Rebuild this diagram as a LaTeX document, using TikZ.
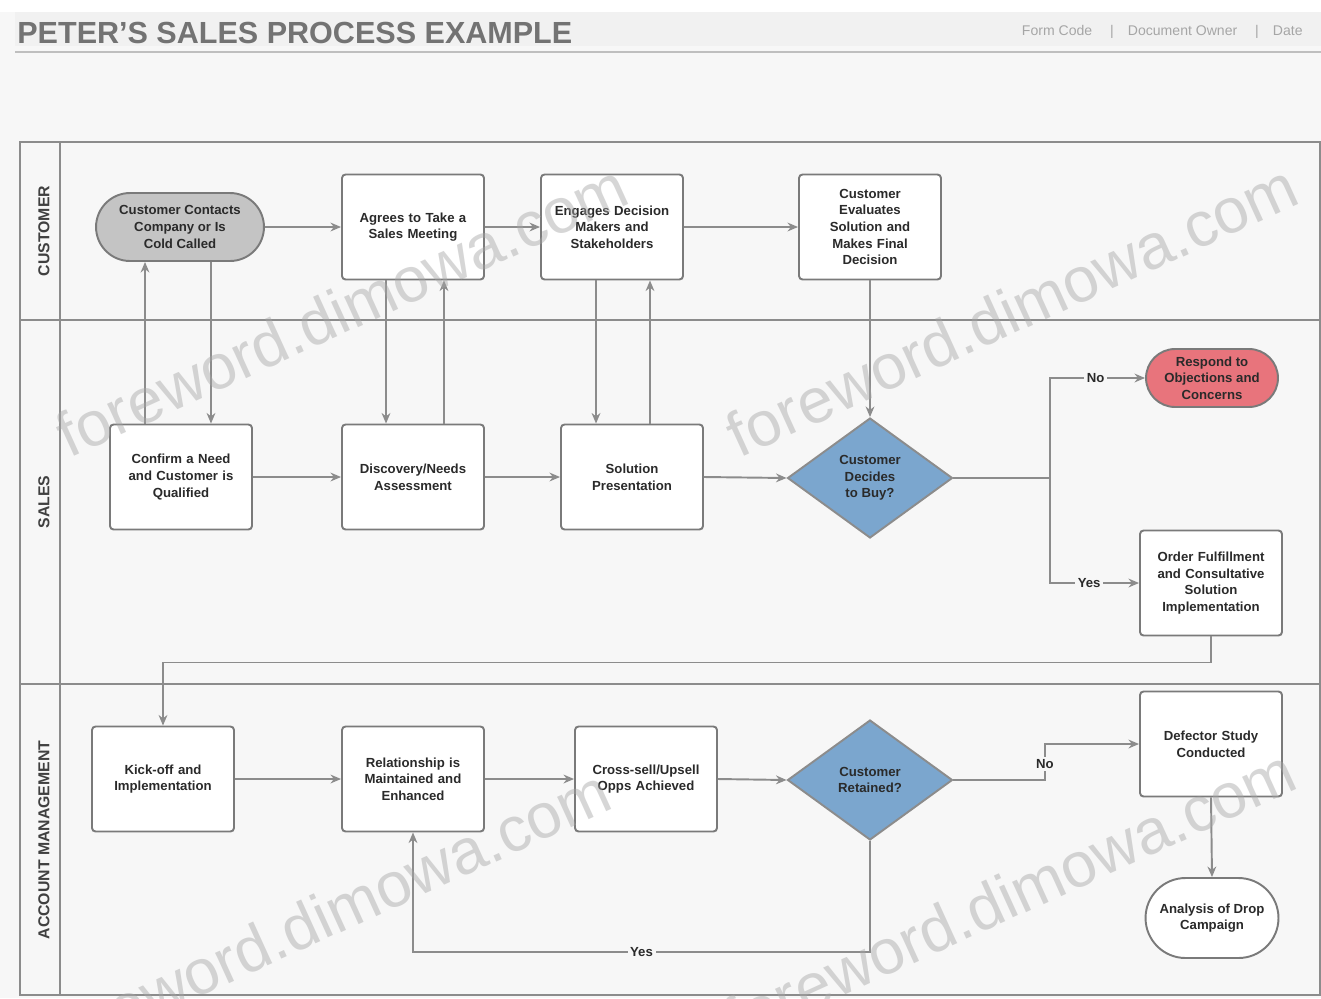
\documentclass[tikz,border=0pt]{standalone}
\usepackage{fontspec}
\setmainfont{Liberation Sans}
\usetikzlibrary{shapes.geometric,shapes.misc,arrows.meta,positioning,calc}
\definecolor{bgc}{HTML}{F7F7F7}
\definecolor{bandc}{HTML}{F1F1F1}
\definecolor{linec}{HTML}{8C8C8C}
\definecolor{boxb}{HTML}{7A7A7A}
\definecolor{termg}{HTML}{C4C4C4}
\definecolor{termr}{HTML}{E8747C}
\definecolor{diab}{HTML}{7BA6CE}
\definecolor{txtc}{HTML}{2A2A2A}
\tikzset{
  procbox/.style={draw=boxb, fill=white, line width=1.1pt, rounded corners=2pt,
    minimum width=2.84cm, minimum height=2.1cm, align=center, inner sep=2pt,
    font=\fontsize{7.5}{9.5}\selectfont\bfseries, text=txtc, text width=2.6cm},
  termbox/.style={draw=boxb, line width=1.1pt, rounded rectangle,
    minimum width=3.5cm, minimum height=1.36cm, align=center, inner sep=2pt,
    font=\fontsize{7.5}{9.5}\selectfont\bfseries, text=txtc},
  decbox/.style={draw=linec, fill=diab, line width=1.1pt, diamond, aspect=1.375,
    minimum width=3.3cm, minimum height=2.4cm, align=center, inner sep=0pt,
    font=\fontsize{7.5}{9.5}\selectfont\bfseries, text=txtc},
  arr/.style={draw=linec, line width=1.1pt, -{Stealth[length=6pt,width=5pt]}},
  lbl/.style={fill=bgc, inner sep=1.5pt, font=\fontsize{7.5}{9}\selectfont\bfseries, text=txtc},
  lanelbl/.style={rotate=90, font=\fontsize{9}{10}\selectfont\bfseries, text=black!75},
  wmark/.style={rotate=24.5, font=\fontsize{36}{36}\selectfont, text=black!35, opacity=0.45}
}
\begin{document}
\begin{tikzpicture}[x=0.02cm,y=-0.02cm]
\useasboundingbox (0,0) rectangle (1321,998);
\fill[bgc] (0,0) rectangle (1321,998);
\fill[white] (0,0) rectangle (1321,12);
\fill[bandc] (15,12) rectangle (1321,46);
\draw[black!25, line width=1.5pt] (15,52) -- (1321,52);
\node[anchor=west, inner sep=0pt, text=black!55] (title) at (17,33)
  {\resizebox{11.1cm}{!}{\bfseries PETER'S SALES PROCESS EXAMPLE}};
\node[anchor=east, inner sep=0pt, text=black!35, font=\fontsize{8}{9}\selectfont] (meta) at (1303,32)
  {Form Code \quad|\quad Document Owner \quad|\quad Date};

% pool frame
\draw[black!45, line width=1.3pt] (20,142) rectangle (1320,995);
\draw[black!45, line width=1.3pt] (60,142) -- (60,995);
\draw[black!45, line width=1.3pt] (20,320) -- (1320,320);
\draw[black!45, line width=1.3pt] (20,684) -- (1320,684);
\node[lanelbl] (L1) at (44,231) {CUSTOMER};
\node[lanelbl] (L2) at (44,502) {SALES};
\node[lanelbl] (L3) at (44,840) {ACCOUNT MANAGEMENT};

% customer lane
\node[termbox, fill=termg] (C1) at (180,227) {Customer Contacts\\Company or Is\\Cold Called};
\node[procbox] (C2) at (413,227) {Agrees to Take a\\Sales Meeting};
\node[procbox] (C3) at (612,227) {Engages Decision\\Makers and\\Stakeholders};
\node[procbox] (C4) at (870,227) {Customer\\Evaluates\\Solution and\\Makes Final\\Decision};

% sales lane
\node[procbox] (S1) at (181,477) {Confirm a Need\\and Customer is\\Qualified};
\node[procbox] (S2) at (413,477) {Discovery/Needs\\Assessment};
\node[procbox] (S3) at (632,477) {Solution\\Presentation};
\node[decbox] (D1) at (870,478) {Customer\\Decides\\to Buy?};
\node[termbox, fill=termr, minimum width=2.78cm, minimum height=1.16cm] (R) at (1212,378) {Respond to\\Objections and\\Concerns};
\node[procbox] (S4) at (1211,583) {Order Fulfillment\\and Consultative\\Solution\\Implementation};

% account management lane
\node[procbox] (A1) at (163,779) {Kick-off and\\Implementation};
\node[procbox] (A2) at (413,779) {Relationship is\\Maintained and\\Enhanced};
\node[procbox] (A3) at (646,779) {Cross-sell/Upsell\\Opps Achieved};
\node[decbox] (D2) at (870,780) {Customer\\Retained?};
\node[procbox] (A4) at (1211,744) {Defector Study\\Conducted};
\node[termbox, fill=white, minimum width=2.8cm, minimum height=1.6cm] (A5) at (1212,918) {Analysis of Drop\\Campaign};

\coordinate (J1) at (1050,478);
\coordinate (J2) at (1045,780);
\coordinate (J3) at (870,952);

% connectors
\draw[arr] (C1.east) -- (C2.west);
\draw[arr] (C2.east) -- (C3.west);
\draw[arr] (C3.east) -- (C4.west);
\draw[arr] ([xshift=-0.72cm]S1.north) -- ([xshift=-0.72cm]S1.north |- C1.south);
\draw[arr] ([xshift=0.6cm]S1.north |- C1.south) -- ([xshift=0.6cm]S1.north);
\draw[arr] ([xshift=-0.54cm]C2.south) -- ([xshift=-0.54cm]S2.north);
\draw[arr] ([xshift=0.62cm]S2.north) -- ([xshift=0.62cm]C2.south);
\draw[arr] ([xshift=-0.72cm]S3.north |- C3.south) -- ([xshift=-0.72cm]S3.north);
\draw[arr] ([xshift=0.36cm]S3.north) -- ([xshift=0.36cm]S3.north |- C3.south);
\draw[arr] (C4.south) -- (D1.north);
\draw[arr] (S1.east) -- (S2.west);
\draw[arr] (S2.east) -- (S3.west);
\draw[arr] (S3.east) -- (D1.west);
\draw[arr] (D1.east) -- (J1) |- node[lbl, pos=0.74] (nolbl1) {No} (R.west);
\draw[arr] (J1) |- node[lbl, pos=0.72] (yeslbl1) {Yes} (S4.west);
\draw[arr] (S4.south) -- ++(0,26) -| (A1.north);
\draw[arr] (A1.east) -- (A2.west);
\draw[arr] (A2.east) -- (A3.west);
\draw[arr] (A3.east) -- (D2.west);
\draw[arr] (D2.east) -- (J2) |- node[lbl, pos=0.22] (nolbl2) {No} (A4.west);
\draw[arr] (A4.south) -- (A5.north);
\draw[arr] (D2.south) -- (J3) -| node[lbl, pos=0.25] (yeslbl2) {Yes} (A2.south);

% watermarks (drawn over the diagram, as in the reference)
\begin{scope}
\clip (0,0) rectangle (1321,998);
\node[wmark] (W1) at (342,310) {foreword.dimowa.com};
\node[wmark] (W2) at (1012,310) {foreword.dimowa.com};
\node[wmark] (W3) at (325,915) {foreword.dimowa.com};
\node[wmark] (W4) at (1010,895) {foreword.dimowa.com};
\end{scope}
\end{tikzpicture}
\end{document}
